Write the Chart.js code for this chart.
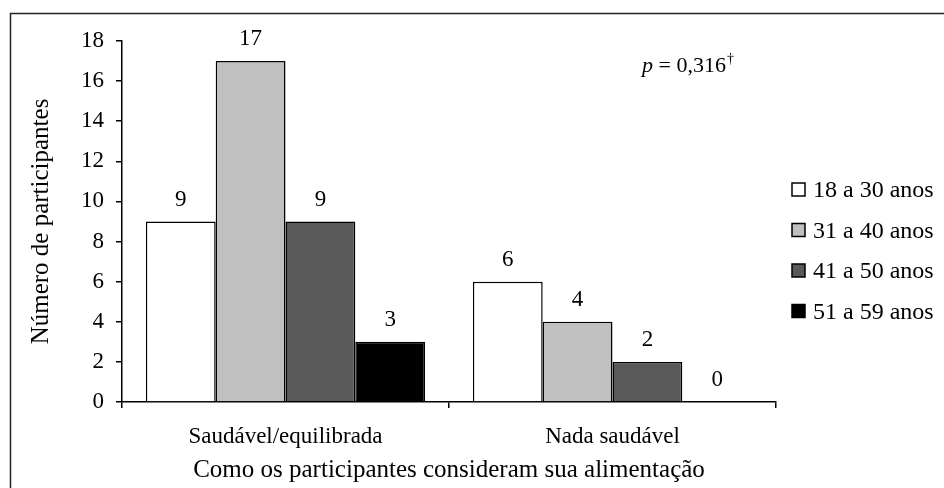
<!DOCTYPE html>
<html>
<head>
<meta charset="utf-8">
<script src="https://cdn.jsdelivr.net/npm/chart.js@4/dist/chart.umd.min.js"></script>
<style>
  html, body { margin: 0; padding: 0; background: #fff; }
  #wrap { width: 944px; height: 488px; }
</style>
</head>
<body>
<div id="wrap"><canvas id="chart" width="944" height="488"></canvas></div>
<script>
// data
const categories = ['Saudável/equilibrada', 'Nada saudável'];
const ageGroups = ['18 a 30 anos', '31 a 40 anos', '41 a 50 anos', '51 a 59 anos'];
const age18to30 = [9, 6];
const age31to40 = [17, 4];
const age41to50 = [9, 2];
const age51to59 = [3, 0];
const yMax = 18;
const yStep = 2;
const pValue = '0,316';

const fills = ['#ffffff', '#c0c0c0', '#595959', '#000000'];
const FONT = "'Liberation Serif', 'Times New Roman', serif";
const FS = 23;

// white page + frame around the figure
const frame = {
    id: 'frame',
    beforeDraw(chart) {
        const c = chart.ctx;
        c.save();
        c.fillStyle = '#fff';
        c.fillRect(0, 0, chart.width, chart.height);
        c.strokeStyle = '#222';
        c.lineWidth = 1.5;
        c.strokeRect(10.5, 13.5, 960, 500);
        c.restore();
    }
};

// numbers above bars
const barValues = {
    id: 'barValues',
    afterDatasetsDraw(chart) {
        const c = chart.ctx;
        c.save();
        c.font = FS + 'px ' + FONT;
        c.fillStyle = '#000';
        c.textAlign = 'center';
        c.textBaseline = 'alphabetic';
        chart.data.datasets.forEach((ds, i) => {
            chart.getDatasetMeta(i).data.forEach((bar, j) => {
                c.fillText(String(ds.data[j]), bar.x, bar.y - 16);
            });
        });
        c.restore();
    }
};

// legend on the right + p value
const sideNotes = {
    id: 'sideNotes',
    afterDraw(chart) {
        const c = chart.ctx;
        c.save();
        c.textBaseline = 'alphabetic';
        c.fillStyle = '#000';
        // legend
        chart.data.datasets.forEach((ds, i) => {
            const base = 197 + i * 40.5;
            c.fillStyle = ds.backgroundColor;
            c.fillRect(792, base - 14, 13, 13);
            c.strokeStyle = '#000';
            c.lineWidth = 1.5;
            c.strokeRect(792, base - 14, 13, 13);
            c.fillStyle = '#000';
            c.font = '24px ' + FONT;
            c.textAlign = 'left';
            c.fillText(ds.label, 813, base);
        });
        // p = 0,316†
        let x = 642;
        const y = 72;
        c.font = 'italic 22px ' + FONT;
        c.fillText('p', x, y);
        x += c.measureText('p').width;
        c.font = '22px ' + FONT;
        const rest = ' = ' + pValue;
        c.fillText(rest, x, y);
        x += c.measureText(rest).width;
        c.font = '14px ' + FONT;
        c.fillText('\u2020', x + 1, y - 9);
        c.restore();
    }
};

const ctx = document.getElementById('chart');

new Chart(ctx, {
    type: 'bar',
    data: {
        labels: categories,
        datasets: [age18to30, age31to40, age41to50, age51to59].map((vals, i) => ({
            label: ageGroups[i],
            data: vals,
            backgroundColor: fills[i],
            borderColor: '#000',
            borderWidth: 1.5,
            categoryPercentage: 0.854,
            barPercentage: 1
        }))
    },
    options: {
        responsive: false,
        animation: false,
        devicePixelRatio: 1,
        layout: { padding: { left: 10, top: 41, right: 168, bottom: 0 } },
        plugins: {
            legend: { display: false },
            tooltip: { enabled: false }
        },
        scales: {
            x: {
                grid: { drawOnChartArea: false, tickLength: 6, color: '#000', lineWidth: 1.5 },
                border: { color: '#000', width: 1.5 },
                ticks: { color: '#000', font: { family: FONT, size: 23 }, padding: 15, maxRotation: 0 },
                title: {
                    display: true,
                    text: 'Como os participantes consideram sua alimentação',
                    color: '#000',
                    font: { family: FONT, size: 25 },
                    padding: { top: 0, bottom: 3 }
                },
                afterFit(scale) { scale.height = 86; }
            },
            y: {
                min: 0,
                max: yMax,
                grid: { drawOnChartArea: false, tickLength: 6, color: '#000', lineWidth: 1.5 },
                border: { color: '#000', width: 1.5 },
                ticks: { stepSize: yStep, color: '#000', font: { family: FONT, size: FS }, padding: 12 },
                title: {
                    display: true,
                    text: 'Número de participantes',
                    color: '#000',
                    font: { family: FONT, size: 25 },
                    padding: { top: 16, bottom: 0 }
                },
                afterFit(scale) { scale.width = 112; }
            }
        }
    },
    plugins: [frame, barValues, sideNotes]
});
</script>
</body>
</html>
